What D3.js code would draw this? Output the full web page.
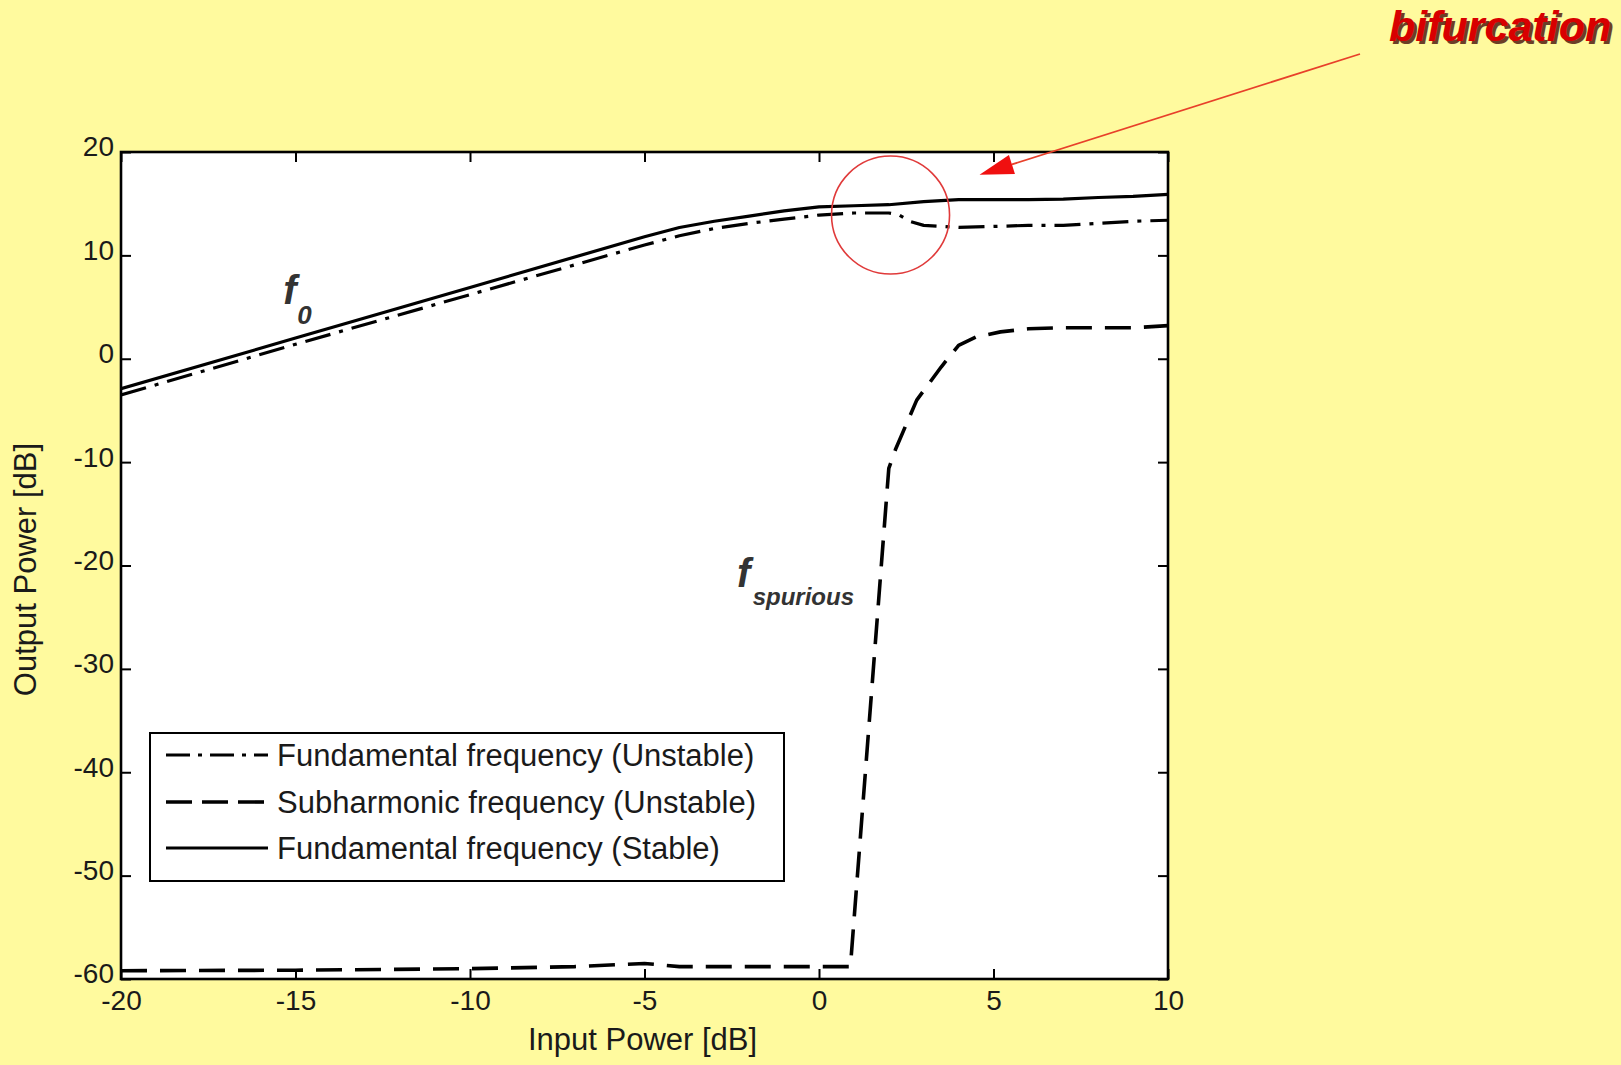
<!DOCTYPE html>
<html>
<head>
<meta charset="utf-8">
<script src="https://cdn.jsdelivr.net/npm/d3@7"></script>
<style>
  html, body { margin: 0; padding: 0; background: #fffa9e; }
  svg { display: block; }
  text { font-family: "Liberation Sans", Arial, sans-serif; }
</style>
</head>
<body>
<svg id="chart" width="1621" height="1065"></svg>
<script>
// ---------- data ----------
const stableX = [-20, -15, -10, -5, -4, -3, -2, -1, 0, 1, 2, 3, 4, 5, 6, 7, 8, 9, 10];
const stableY = [-2.9, 2.0, 6.9, 11.8, 12.7, 13.3, 13.8, 14.3, 14.7, 14.8, 14.9, 15.2, 15.4, 15.4, 15.4, 15.45, 15.6, 15.7, 15.9];

const unstableX = [-20, -15, -10, -5, -4, -3, -2, -1, 0, 1, 2, 2.3, 2.6, 3, 3.5, 4, 5, 6, 7, 8, 9, 10];
const unstableY = [-3.5, 1.4, 6.2, 11.0, 11.9, 12.6, 13.1, 13.5, 13.9, 14.1, 14.1, 13.9, 13.3, 12.9, 12.8, 12.7, 12.8, 12.9, 12.9, 13.1, 13.3, 13.4];

const subX = [-20, -15, -10, -7, -5, -4, -2, 0, 0.9, 2.0, 2.2, 2.8, 3.5, 4.0, 4.5, 5.2, 6, 7, 8, 9, 10];
const subY = [-59.2, -59.15, -59.0, -58.8, -58.5, -58.8, -58.8, -58.8, -58.8, -10.6, -8.7, -4.0, -0.8, 1.3, 2.1, 2.6, 2.9, 3.0, 3.0, 3.0, 3.2];

const xTicks = [-20, -15, -10, -5, 0, 5, 10];
const yTicks = [20, 10, 0, -10, -20, -30, -40, -50, -60];

const legendLabels = ["Fundamental frequency (Unstable)", "Subharmonic frequency (Unstable)", "Fundamental frequency (Stable)"];
const xLabel = "Input Power [dB]";
const yLabel = "Output Power [dB]";

// ---------- layout ----------
const svg = d3.select("#chart");
const L = 121, R = 1168, T = 152, B = 979;
const x = d3.scaleLinear().domain([-20, 10]).range([L, R]);
const y = d3.scaleLinear().domain([-60, 20]).range([B, T]);

svg.append("rect").attr("width", 1621).attr("height", 1065).attr("fill", "#fffa9e");
svg.append("rect").attr("x", L).attr("y", T).attr("width", R - L).attr("height", B - T).attr("fill", "#ffffff");

const styles = {
  unstable: { dash: "26,9,4,9", width: 3.2 },
  sub: { dash: "26,13", width: 3.6 },
  stable: { dash: null, width: 3.2 }
};

const line = d3.line().x(d => x(d[0])).y(d => y(d[1]));
svg.append("clipPath").attr("id", "pc").append("rect")
  .attr("x", L).attr("y", T).attr("width", R - L).attr("height", B - T);

const series = [
  { key: "sub", xs: subX, ys: subY },
  { key: "unstable", xs: unstableX, ys: unstableY },
  { key: "stable", xs: stableX, ys: stableY }
];
series.forEach(s => {
  svg.append("path")
    .datum(s.xs.map((v, i) => [v, s.ys[i]]))
    .attr("clip-path", "url(#pc)")
    .attr("d", line)
    .attr("fill", "none")
    .attr("stroke", "#000")
    .attr("stroke-width", styles[s.key].width)
    .attr("stroke-dasharray", styles[s.key].dash)
    .attr("stroke-linejoin", "round");
});

// ---------- axes ----------
const tickFont = 28;
const fmt = d => String(d);
const gx = svg.append("g").attr("transform", `translate(0,${B})`)
  .call(d3.axisBottom(x).tickValues(xTicks).tickSize(-10).tickPadding(11).tickFormat(fmt));
const gy = svg.append("g").attr("transform", `translate(${L},0)`)
  .call(d3.axisLeft(y).tickValues(yTicks).tickSize(-10).tickPadding(7).tickFormat(fmt));
const gt = svg.append("g").attr("transform", `translate(0,${T})`)
  .call(d3.axisTop(x).tickValues(xTicks).tickSize(-10).tickFormat(""));
const gr = svg.append("g").attr("transform", `translate(${R},0)`)
  .call(d3.axisRight(y).tickValues(yTicks).tickSize(-10).tickFormat(""));
[gx, gy, gt, gr].forEach(g => {
  g.select(".domain").remove();
  g.selectAll(".tick line").attr("stroke", "#000").attr("stroke-width", 2);
  g.selectAll("text").attr("font-size", tickFont).attr("fill", "#1a1a1a")
    .attr("font-family", "'Liberation Sans', Arial, sans-serif");
});
gy.selectAll("text").attr("dy", "0.14em");
gx.selectAll("text").attr("dy", "0.71em");

svg.append("rect").attr("x", L).attr("y", T).attr("width", R - L).attr("height", B - T)
  .attr("fill", "none").attr("stroke", "#000").attr("stroke-width", 2.6);

// axis labels
svg.append("text").attr("x", (L + R) / 2 - 2).attr("y", 1050).attr("text-anchor", "middle")
  .attr("font-size", 31).attr("fill", "#1a1a1a").text(xLabel);
svg.append("text").attr("transform", `translate(36,${(T + B) / 2 + 4}) rotate(-90)`)
  .attr("text-anchor", "middle").attr("font-size", 31).attr("fill", "#1a1a1a").text(yLabel);

// ---------- legend ----------
const lg = svg.append("g");
lg.append("rect").attr("x", 150).attr("y", 733).attr("width", 634).attr("height", 148)
  .attr("fill", "#fff").attr("stroke", "#000").attr("stroke-width", 2);
const legendKeys = ["unstable", "sub", "stable"];
const rowY = [755, 802, 848];
legendLabels.forEach((lab, i) => {
  const st = styles[legendKeys[i]];
  lg.append("line").attr("x1", 166).attr("x2", 268).attr("y1", rowY[i]).attr("y2", rowY[i])
    .attr("stroke", "#000").attr("stroke-width", st.width)
    .attr("stroke-dasharray", legendKeys[i] === "unstable" ? "24,8,4,8" : (legendKeys[i] === "sub" ? "26,10" : null));
  lg.append("text").attr("x", 277).attr("y", rowY[i]).attr("dy", "0.35em")
    .attr("font-size", 31).attr("fill", "#1a1a1a").text(lab);
});

// ---------- annotations ----------
const ann = svg.append("g").attr("font-family", "'Liberation Sans', Arial, sans-serif")
  .attr("font-weight", "bold").attr("font-style", "italic").attr("fill", "#333");
// f0
ann.append("text").attr("x", x(-15.35)).attr("y", y(5.3)).attr("font-size", 40).text("f");
ann.append("text").attr("x", x(-14.95)).attr("y", y(3.4)).attr("font-size", 26).text("0");
// f spurious
ann.append("text").attr("x", x(-2.35)).attr("y", y(-22.1)).attr("font-size", 40).text("f");
ann.append("text").attr("x", x(-1.9)).attr("y", y(-23.8)).attr("font-size", 24).text("spurious");

// bifurcation circle
svg.append("circle").attr("cx", x(2.05)).attr("cy", y(13.9)).attr("r", 59)
  .attr("fill", "none").attr("stroke", "#e03a3a").attr("stroke-width", 1.6);

// arrow
const tip = [x(4.6), y(17.8)];
const start = [1360, 54];
const dx = tip[0] - start[0], dy = tip[1] - start[1];
const len = Math.hypot(dx, dy);
const ux = dx / len, uy = dy / len;
const headLen = 34, headW = 10;
const base = [tip[0] - ux * headLen, tip[1] - uy * headLen];
svg.append("line").attr("x1", start[0]).attr("y1", start[1]).attr("x2", base[0]).attr("y2", base[1])
  .attr("stroke", "#e8402a").attr("stroke-width", 1.8);
svg.append("polygon").attr("points", [
  tip,
  [base[0] - uy * headW, base[1] + ux * headW],
  [base[0] + uy * headW, base[1] - ux * headW]
].map(p => p.join(",")).join(" ")).attr("fill", "#f01010");

// bifurcation label
const bt = svg.append("g").attr("font-weight", "bold").attr("font-style", "italic")
  .attr("font-size", 43);
bt.append("text").attr("x", 1392).attr("y", 44).attr("fill", "#3a0000").attr("opacity", 0.75).text("bifurcation");
bt.append("text").attr("x", 1389).attr("y", 41).attr("fill", "#d80000").text("bifurcation");
</script>
</body>
</html>
